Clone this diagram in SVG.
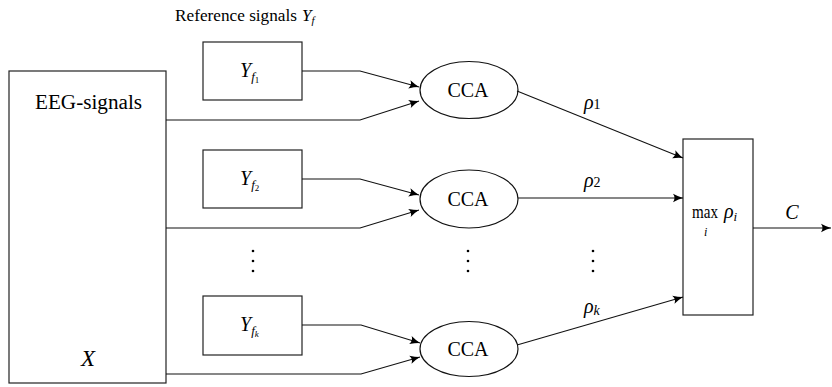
<svg xmlns="http://www.w3.org/2000/svg" width="832" height="387" viewBox="0 0 832 387">
<defs>
<marker id="arr" markerUnits="userSpaceOnUse" markerWidth="12" markerHeight="10" viewBox="-11 -5 12 10" refX="0" refY="0" orient="auto">
<path d="M-10,-4.2 Q-4,-1 0,0 Q-4,1 -10,4.2 Q-7,0 -10,-4.2 Z" fill="#000"/>
</marker>
<style>
.box{fill:#fff;stroke:#222;stroke-width:1.2}
.ell{fill:#fff;stroke:#111;stroke-width:1.2}
.ln{fill:none;stroke:#111;stroke-width:1.1;marker-end:url(#arr)}
text{font-family:'Liberation Serif','Times New Roman',serif;fill:#000}
.i{font-style:italic}
.dot{fill:#000}
</style>
</defs>
<rect width="832" height="387" fill="#fff"/>
<text x="175" y="21" font-size="16.5" textLength="122" lengthAdjust="spacingAndGlyphs">Reference signals</text>
<text class="i" x="302" y="21" font-size="17">Y<tspan font-size="11" dy="3">f</tspan></text>

<g id="eeg">
<rect class="box" x="9" y="71" width="157" height="312"/>
<text x="35" y="109" font-size="20" textLength="107" lengthAdjust="spacingAndGlyphs">EEG-signals</text>
<text class="i" x="88" y="366" font-size="23" text-anchor="middle">X</text>
</g>

<g id="yf1">
<rect class="box" x="203" y="42" width="99" height="58"/>
<text class="i" x="240" y="77" font-size="20">Y<tspan font-size="13" dy="4">f</tspan><tspan font-size="9" font-style="normal" dy="2">1</tspan></text>
</g>
<g id="yf2">
<rect class="box" x="203" y="150" width="99" height="58"/>
<text class="i" x="240" y="185" font-size="20">Y<tspan font-size="13" dy="4">f</tspan><tspan font-size="9" font-style="normal" dy="2">2</tspan></text>
</g>
<g id="yfk">
<rect class="box" x="203" y="296" width="99" height="59"/>
<text class="i" x="240" y="331" font-size="20">Y<tspan font-size="13" dy="4">f</tspan><tspan font-size="9" dy="2">k</tspan></text>
</g>

<g id="cca1">
<ellipse class="ell" cx="469" cy="90" rx="49" ry="28.5"/>
<text x="468" y="97" font-size="20" text-anchor="middle">CCA</text>
</g>
<g id="cca2">
<ellipse class="ell" cx="469" cy="199" rx="49" ry="29"/>
<text x="468" y="206" font-size="20" text-anchor="middle">CCA</text>
</g>
<g id="cca3">
<ellipse class="ell" cx="469" cy="349" rx="49" ry="27.5"/>
<text x="468" y="356" font-size="20" text-anchor="middle">CCA</text>
</g>

<g id="max">
<rect class="box" x="683" y="139" width="70" height="176"/>
<text x="692" y="218" font-size="18" textLength="26" lengthAdjust="spacingAndGlyphs">max</text>
<text class="i" x="704" y="236" font-size="12">i</text>
<text class="i" x="724" y="218" font-size="20">ρ<tspan font-size="13" dy="3">i</tspan></text>
</g>

<g id="dots">
<circle class="dot" cx="253" cy="251" r="1.3"/><circle class="dot" cx="253" cy="261" r="1.3"/><circle class="dot" cx="253" cy="271" r="1.3"/>
<circle class="dot" cx="468" cy="251" r="1.3"/><circle class="dot" cx="468" cy="261" r="1.3"/><circle class="dot" cx="468" cy="271" r="1.3"/>
<circle class="dot" cx="593" cy="251" r="1.3"/><circle class="dot" cx="593" cy="261" r="1.3"/><circle class="dot" cx="593" cy="271" r="1.3"/>
</g>

<g id="connectors">
<polyline class="ln" points="302,71 360,71 419,87"/>
<polyline class="ln" points="166,120 360,120 419,101"/>
<polyline class="ln" points="302,179 360,179 419,195"/>
<polyline class="ln" points="166,228 360,228 419,210"/>
<polyline class="ln" points="302,325 361,325 420,343"/>
<polyline class="ln" points="166,374 361,374 420,357"/>
<line class="ln" x1="517" y1="91" x2="683" y2="158"/>
<line class="ln" x1="518" y1="198" x2="683" y2="198"/>
<line class="ln" x1="517" y1="345" x2="683" y2="297"/>
<line class="ln" x1="753" y1="228" x2="831" y2="228"/>
<text class="i" x="584" y="109" font-size="20">ρ<tspan font-size="14" font-style="normal">1</tspan></text>
<text class="i" x="584" y="187" font-size="20">ρ<tspan font-size="14" font-style="normal">2</tspan></text>
<text class="i" x="584" y="313" font-size="20">ρ<tspan font-size="14" dy="2">k</tspan></text>
<text class="i" x="792" y="219" font-size="20" text-anchor="middle">C</text>
</g>
</svg>
